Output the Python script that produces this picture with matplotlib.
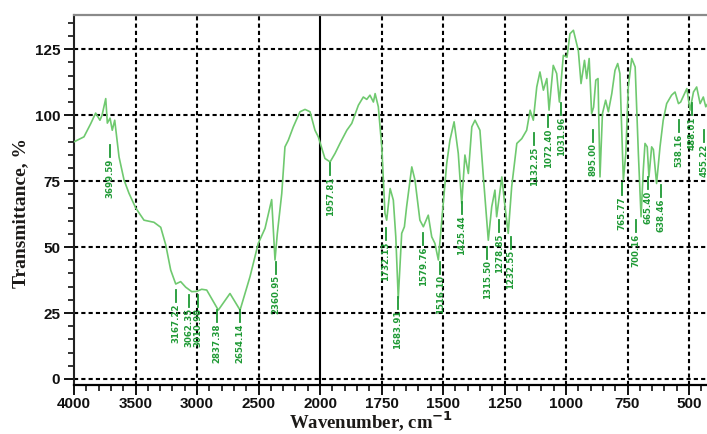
import numpy as np
import matplotlib
matplotlib.use("Agg")
import matplotlib.pyplot as plt
from matplotlib import font_manager
from matplotlib.ticker import FixedLocator

# === Espectro FTIR ===
wavenumber = [4000, 3919, 3864, 3824, 3789, 3772, 3742, 3729, 3707, 3689, 3669, 3653, 3634,
              3593, 3553, 3498, 3431, 3350, 3295, 3254, 3214, 3173, 3133, 3092, 3043, 3002,
              2962, 2921, 2827, 2732, 2650, 2569, 2502, 2447, 2393, 2366, 2347, 2311, 2285,
              2258, 2217, 2163, 2122, 2081, 2041, 2014, 1980, 1959, 1939, 1919, 1891, 1871,
              1844, 1824, 1810, 1797, 1783, 1776, 1763, 1749, 1736, 1729, 1715, 1702, 1692,
              1682, 1668, 1657, 1648, 1627, 1614, 1594, 1580, 1560, 1546, 1533, 1519, 1505,
              1485, 1472, 1455, 1438, 1424, 1411, 1397, 1383, 1370, 1350, 1336, 1316, 1302,
              1289, 1282, 1268, 1261, 1248, 1235, 1221, 1200, 1180, 1160, 1146, 1133, 1119,
              1106, 1092, 1078, 1069, 1052, 1038, 1027, 1011, 996, 984, 970, 950, 939, 925,
              916, 906, 896, 888, 879, 870, 862, 852, 839, 828, 814, 801, 790, 781, 767, 757,
              747, 733, 719, 706, 695, 686, 679, 670, 663, 652, 645, 632, 618, 605, 591, 571,
              557, 543, 534, 509, 496, 482, 469, 455, 442, 432, 427]
transmittance = [89.9, 91.8, 96.8, 100.8, 98.1, 100.0, 106.3, 97.0, 98.9, 94.3, 98.1, 91.8, 84.2,
                 75.4, 70.4, 64.8, 60.2, 59.4, 57.5, 50.8, 41.3, 36.0, 36.9, 34.8, 33.1, 33.2,
                 34.0, 33.7, 26.1, 32.4, 26.1, 38.8, 51.4, 57.1, 68.0, 45.1, 55.2, 70.3, 88.0,
                 90.5, 95.6, 101.3, 102.2, 101.3, 94.3, 91.8, 83.6, 82.3, 85.5, 89.3, 94.3, 96.9,
                 103.8, 106.9, 106.0, 107.6, 105.0, 108.2, 103.2, 88.0, 62.8, 60.2, 72.2, 67.8, 53.9,
                 30.5, 55.2, 57.7, 65.3, 80.4, 75.4, 60.2, 57.7, 62.1, 53.9, 51.4, 45.1, 60.2,
                 81.7, 90.5, 97.5, 85.5, 66.5, 84.9, 77.9, 95.6, 98.1, 94.3, 76.6, 52.6, 65.3,
                 71.6, 61.5, 71.6, 76.6, 65.3, 55.2, 72.8, 89.3, 91.1, 94.3, 101.9, 98.1, 110.7,
                 116.4, 109.5, 113.9, 101.9, 118.9, 115.8, 105.0, 122.7, 122.0, 130.9, 132.2, 124.5, 112.0, 120.8,
                 113.9, 121.5, 100.6, 103.0, 113.3, 113.9, 76.6, 100.6, 105.7, 101.3, 108.2, 117.0, 119.6, 115.8, 75.4, 85.5,
                 110.7, 121.5, 118.3, 85.5, 61.5, 79.2, 89.3, 88.0, 76.6, 88.0, 87.0, 74.1, 88.0, 98.1, 104.4, 107.6,
                 108.8, 104.4, 105.0, 110.1, 101.9, 108.8, 110.7, 104.4, 106.9, 103.2, 104.0]

# Etiquetas de picos (texto, posición dibujada y altura del inicio de la línea)
peak_labels = ["3699.59", "3167.22", "3062.35", "3010.98", "2837.38", "2654.14", "2360.95",
               "1957.81", "1732.13", "1683.91", "1579.76", "1516.10", "1425.44", "1315.50",
               "1278.85", "1232.55", "1132.25", "1072.40", "1031.96", "895.00", "765.77",
               "700.16", "665.40", "638.46", "538.16", "488.01", "455.22"]
peak_x = [3707, 3171, 3065, 2995, 2837, 2650, 2358, 1959, 1732, 1683, 1581, 1512, 1423, 1321,
          1272, 1224, 1130, 1073, 1020, 890, 772, 715, 667, 614, 541, 488, 439]
peak_y = [88.6, 33.7, 31.8, 31.8, 26.1, 26.1, 44.3, 81.8, 57.2, 31.1, 55.3, 44.3, 67.0, 50.0,
          60.2, 53.8, 93.2, 100.0, 104.5, 94.3, 74.2, 60.2, 76.5, 73.5, 98.1, 104.5, 94.3]

x_ticks = [4000, 3500, 3000, 2500, 2000, 1750, 1500, 1250, 1000, 750, 500]
y_ticks = [0, 25, 50, 75, 100, 125]

curve_color = "#6fc96f"
label_color = "#1f9a35"

available = {f.name for f in font_manager.fontManager.ttflist}
if "Liberation Sans Narrow" in available:
    label_font, label_size = "Liberation Sans Narrow", 9
elif "DejaVu Sans Condensed" in available:
    label_font, label_size = "DejaVu Sans Condensed", 6.8
else:
    label_font, label_size = "DejaVu Sans", 6.2


# Escala con cambio en 2000 cm-1 (la mitad por encima de 2000)
def fwd(w):
    w = np.asarray(w, dtype=float)
    return np.where(w > 2000, 2000 + (w - 2000) / 2.0, w)


def inv(u):
    u = np.asarray(u, dtype=float)
    return np.where(u > 2000, 2000 + (u - 2000) * 2.0, u)


fig = plt.figure(figsize=(7.07, 4.34), dpi=100)
ax = fig.add_axes([74 / 707, 49 / 434, 633 / 707, 370 / 434])
ax.set_xscale("function", functions=(fwd, inv))
ax.set_xlim(4000, 427)
ax.set_ylim(-2.3, 138)

ax.plot(wavenumber, transmittance, color=curve_color, lw=1.2, zorder=3)

# Rejilla punteada
for yt in y_ticks:
    ax.axhline(yt, color="black", lw=1.5, dashes=(2, 1.5), zorder=1)
for xt in x_ticks[1:]:
    if xt != 2000:
        ax.axvline(xt, color="black", lw=1.5, dashes=(2, 1.5), zorder=1)
ax.axvline(2000, color="black", lw=1.5, zorder=2)

# Etiquetas de picos
for txt, px, py in zip(peak_labels, peak_x, peak_y):
    ax.plot([px, px], [py, py - 4.5], color=label_color, lw=1.3, zorder=4)
    ax.text(px, py - 5.0, txt, rotation=90, ha="center", va="top", color=label_color,
            fontsize=label_size, family=label_font, fontweight="bold", zorder=5)

ax.xaxis.set_major_locator(FixedLocator(x_ticks))
minor_x = list(range(3900, 2000, -100)) + list(range(1950, 400, -50))
ax.xaxis.set_minor_locator(FixedLocator([m for m in minor_x if m not in x_ticks]))
ax.yaxis.set_major_locator(FixedLocator(y_ticks))
ax.yaxis.set_minor_locator(FixedLocator([v for v in range(0, 140, 5) if v not in y_ticks]))

ax.tick_params(axis="both", which="major", direction="out", length=7, width=1.4,
               labelsize=11, pad=3, colors="#111111")
ax.tick_params(axis="x", which="major", pad=1.5)
ax.tick_params(axis="both", which="minor", direction="out", length=4, width=1.2, colors="#111111")
for lab in ax.get_xticklabels() + ax.get_yticklabels():
    lab.set_fontweight("bold")
    lab.set_family("Liberation Sans")

ax.spines["right"].set_visible(False)
ax.spines["top"].set_color("#8a8a8a")
ax.spines["top"].set_linewidth(1.6)
ax.spines["left"].set_linewidth(1.5)
ax.spines["left"].set_color("#222222")
ax.spines["bottom"].set_linewidth(1.6)

fig.text(21 / 707, 1 - 213 / 434, "Transmittance, %", rotation=90, ha="center", va="center",
         fontsize=14, fontweight="bold", family="Liberation Serif", color="#1c1a18")
fig.text(371 / 707, 1 - 422 / 434, "Wavenumber, cm$^{\\mathbf{-1}}$", ha="center", va="center",
         fontsize=13.5, fontweight="bold", family="Liberation Serif", color="#1c1a18")

fig.savefig("out.png", dpi=100)
